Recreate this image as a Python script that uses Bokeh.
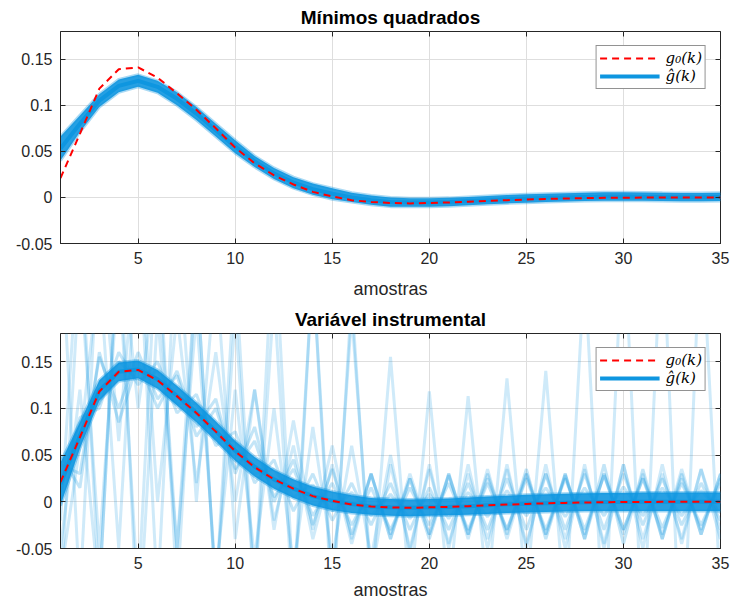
import numpy as np
from bokeh.plotting import figure
from bokeh.models import Range1d, FixedTicker, LinearAxis, Legend, LegendItem, CustomJSTickFormatter
from bokeh.layouts import column
from bokeh.embed import file_html
from bokeh.resources import INLINE

# ---------------- data ----------------
k = list(range(1, 36))

g0 = [0.021, 0.069, 0.118, 0.139, 0.141, 0.130, 0.113, 0.095, 0.075, 0.054,
      0.037, 0.024, 0.014, 0.006, 0.001, -0.003, -0.005, -0.006, -0.0065, -0.006,
      -0.0055, -0.0047, -0.0038, -0.003, -0.0023, -0.0017, -0.0012, -0.0008, -0.0005, -0.0003,
      -0.0002, -0.0001, 0.0, 0.0, 0.0]

# Least squares estimates (envelope of the realisations)
ls_mid = [0.053, 0.080, 0.105, 0.121, 0.1265, 0.120, 0.107, 0.091, 0.073, 0.055,
          0.039, 0.026, 0.016, 0.009, 0.004, 0.000, -0.003, -0.005, -0.0055, -0.0055,
          -0.005, -0.004, -0.003, -0.002, -0.0012, -0.0005, 0.0, 0.0005, 0.001, 0.001,
          0.0008, 0.0005, 0.0003, 0.0003, 0.0005]
ls_lo = [0.040, 0.071, 0.098, 0.114, 0.120, 0.1135, 0.100, 0.084, 0.066, 0.048,
         0.033, 0.020, 0.010, 0.003, -0.002, -0.005, -0.008, -0.010, -0.010, -0.010,
         -0.0095, -0.0085, -0.0075, -0.0065, -0.0057, -0.005, -0.0045, -0.004, -0.0035, -0.0035,
         -0.0037, -0.004, -0.0042, -0.0042, -0.004]
ls_hi = [0.066, 0.089, 0.112, 0.128, 0.133, 0.1265, 0.114, 0.098, 0.080, 0.062,
         0.045, 0.032, 0.022, 0.015, 0.010, 0.005, 0.002, 0.000, -0.001, -0.001,
         -0.0005, 0.0005, 0.0015, 0.0025, 0.0033, 0.004, 0.0045, 0.005, 0.0055, 0.0055,
         0.0053, 0.005, 0.0048, 0.0048, 0.005]

# Instrumental variable estimates: dense envelope
iv_lo = [-0.004, 0.057, 0.108, 0.129, 0.132, 0.121, 0.103, 0.085, 0.065, 0.044,
         0.027, 0.014, 0.004, -0.004, -0.009, -0.012, -0.014, -0.015, -0.0155, -0.015,
         -0.0145, -0.014, -0.013, -0.012, -0.0115, -0.011, -0.0105, -0.010, -0.010, -0.010,
         -0.010, -0.010, -0.010, -0.010, -0.010]
iv_hi = [0.042, 0.085, 0.130, 0.149, 0.151, 0.141, 0.124, 0.106, 0.086, 0.065,
         0.048, 0.034, 0.024, 0.016, 0.011, 0.007, 0.004, 0.003, 0.0025, 0.003,
         0.0035, 0.0045, 0.0055, 0.0065, 0.0075, 0.008, 0.0085, 0.009, 0.0095, 0.0095,
         0.010, 0.010, 0.010, 0.010, 0.010]

# Instrumental variable: moderately oscillating realisations
iv_m1 = [0.010, 0.090, 0.100, 0.160, 0.125, 0.150, 0.095, 0.115, 0.060, 0.075,
         0.020, 0.045, -0.010, 0.030, -0.020, 0.020, -0.025, 0.020, -0.030, 0.015,
         -0.030, 0.020, -0.030, 0.025, -0.030, 0.030, -0.030, 0.030, -0.030, 0.030,
         -0.025, 0.025, -0.025, 0.020, -0.020]
iv_m2 = [0.040, 0.030, 0.155, 0.100, 0.160, 0.110, 0.135, 0.070, 0.100, 0.035,
         0.065, 0.005, 0.035, -0.015, 0.020, -0.025, 0.015, -0.030, 0.015, -0.025,
         0.020, -0.030, 0.020, -0.030, 0.025, -0.030, 0.025, -0.030, 0.028, -0.030,
         0.025, -0.028, 0.020, -0.025, 0.020]
iv_m3 = [0.025, 0.085, 0.105, 0.150, 0.130, 0.140, 0.105, 0.105, 0.068, 0.065,
         0.030, 0.035, 0.005, 0.018, -0.010, 0.010, -0.015, 0.008, -0.018, 0.008,
         -0.018, 0.010, -0.016, 0.012, -0.015, 0.015, -0.016, 0.015, -0.015, 0.016,
         -0.015, 0.015, -0.015, 0.012, -0.012]
iv_m4 = [0.050, 0.015, 0.160, 0.085, 0.150, 0.100, 0.140, 0.080, 0.110, 0.030,
         0.080, 0.000, 0.045, -0.025, 0.035, -0.035, 0.030, -0.035, 0.025, -0.040,
         0.030, -0.035, 0.030, -0.035, 0.035, -0.040, 0.030, -0.040, 0.040, -0.045,
         0.035, -0.040, 0.030, -0.035, 0.030]

# Instrumental variable: strongly oscillating realisations
iv_w1 = [-0.100, 0.250, -0.050, 0.250, -0.100, 0.300, -0.100, 0.250, -0.100, 0.200,
         -0.100, 0.220, -0.120, 0.250, -0.120, 0.220, -0.100, 0.155, -0.100, 0.118,
         -0.100, 0.113, -0.100, 0.132, -0.100, 0.140, -0.120, 0.250, -0.150, 0.300,
         -0.150, 0.300, -0.200, 0.300, -0.100]
iv_w2 = [-0.020, 0.300, -0.100, 0.300, -0.150, 0.200, -0.050, 0.200, -0.080, 0.120,
         -0.060, 0.100, -0.070, 0.080, -0.060, 0.060, -0.060, 0.050, -0.055, 0.040,
         -0.050, 0.040, -0.050, 0.040, -0.050, 0.040, -0.050, 0.040, -0.050, 0.040,
         -0.050, 0.040, -0.045, 0.035, -0.040]
iv_w3 = [0.300, -0.100, 0.300, 0.065, 0.300, -0.100, 0.300, 0.000, 0.250, -0.040,
         0.120, -0.030, 0.087, -0.030, 0.060, -0.040, 0.030, -0.040, 0.030, -0.035,
         0.030, -0.040, 0.035, -0.040, 0.030, -0.035, 0.030, -0.040, 0.030, -0.035,
         0.030, -0.040, 0.035, -0.035, 0.030]
iv_w4 = [-0.050, 0.120, -0.100, 0.300, 0.100, 0.250, -0.050, 0.250, -0.100, 0.250,
         -0.100, 0.300, -0.100, 0.250, -0.100, 0.200, -0.080, 0.040, -0.050, 0.035,
         -0.045, 0.030, -0.040, 0.035, -0.045, 0.030, -0.040, 0.035, -0.045, 0.040,
         -0.040, 0.030, -0.040, 0.035, -0.030]
iv_w5 = [-0.080, 0.060, 0.250, -0.050, 0.300, 0.000, 0.200, 0.020, 0.160, 0.000,
         0.120, -0.020, 0.060, -0.040, 0.040, -0.045, 0.030, -0.040, 0.025, -0.035,
         0.028, -0.035, 0.025, -0.030, 0.030, -0.035, 0.028, -0.035, 0.030, -0.030,
         0.025, -0.035, 0.025, -0.030, 0.025]

x_ticks = [5, 10, 15, 20, 25, 30, 35]
y_ticks = [-0.05, 0, 0.05, 0.1, 0.15]
titles = ["Mínimos quadrados", "Variável instrumental"]
xlabel = "amostras"
legend_labels = ["g\u2080(k)", "\u011d(k)"]

BLUE = "#0E96E0"
DARK = "#262626"
FONT = "Liberation Sans"

fmt = CustomJSTickFormatter(code="""
var s = tick.toFixed(2);
if (s.indexOf('.') >= 0) { s = s.replace(/0+$/, '').replace(/\\.$/, ''); }
if (s == '-0') { s = '0'; }
return s;
""")
blank_fmt = CustomJSTickFormatter(code="return '';")


def make_fig(title, height, top_b, bot_b, label_standoff):
    p = figure(width=732, height=height,
               x_range=Range1d(1, 35), y_range=Range1d(-0.05, 0.18),
               output_backend="svg", toolbar_location=None,
               min_border_left=60, min_border_right=12,
               min_border_top=top_b, min_border_bottom=bot_b,
               background_fill_color="white", border_fill_color="white")
    p.outline_line_color = DARK
    p.outline_line_width = 1
    p.title.text = title
    p.title.align = "center"
    p.title.text_font = FONT
    p.title.text_font_style = "bold"
    p.title.text_font_size = "19px"
    p.title.text_color = "#000000"
    p.title.standoff = 8

    p.xaxis.ticker = FixedTicker(ticks=x_ticks)
    p.yaxis.ticker = FixedTicker(ticks=y_ticks)
    p.yaxis.formatter = fmt
    for ax in (p.xaxis[0], p.yaxis[0]):
        ax.major_tick_in = 5
        ax.major_tick_out = 0
        ax.minor_tick_line_color = None
        ax.axis_line_color = DARK
        ax.major_tick_line_color = DARK
        ax.major_label_text_font = FONT
        ax.major_label_text_font_size = "16px"
        ax.major_label_text_color = DARK
        ax.major_label_standoff = 8
    p.xaxis.axis_label = xlabel
    p.xaxis.axis_label_text_font = FONT
    p.xaxis.axis_label_text_font_size = "18px"
    p.xaxis.axis_label_text_font_style = "normal"
    p.xaxis.axis_label_text_color = DARK
    p.xaxis.axis_label_standoff = label_standoff

    # ticks on right and top (box on)
    for loc, tk in (("right", y_ticks), ("above", x_ticks)):
        ax = LinearAxis(ticker=FixedTicker(ticks=tk), formatter=blank_fmt)
        ax.axis_line_color = None
        ax.major_tick_in = 5
        ax.major_tick_out = 0
        ax.minor_tick_line_color = None
        ax.major_tick_line_color = DARK
        ax.major_label_standoff = 0
        p.add_layout(ax, loc)

    p.xgrid.ticker = FixedTicker(ticks=x_ticks)
    p.ygrid.ticker = FixedTicker(ticks=y_ticks)
    p.grid.grid_line_color = "#dedede"
    p.grid.grid_line_width = 1
    return p


def add_legend(p, r_red, r_blue):
    leg = Legend(items=[LegendItem(label=legend_labels[0], renderers=[r_red]),
                        LegendItem(label=legend_labels[1], renderers=[r_blue])],
                 location="top_right")
    leg.margin = 14
    leg.padding = 3
    leg.spacing = 0
    leg.glyph_width = 60
    leg.glyph_height = 18
    leg.label_height = 18
    leg.label_standoff = 6
    leg.label_text_font = "DejaVu Serif"
    leg.label_text_font_style = "italic"
    leg.label_text_font_size = "15px"
    leg.label_text_color = "#000000"
    leg.border_line_color = DARK
    leg.border_line_width = 1
    leg.background_fill_color = "white"
    leg.background_fill_alpha = 1
    p.add_layout(leg)


# ---------------- top: least squares ----------------
p1 = make_fig(titles[0], 302, 31, 59, 12)
p1.varea(x=k, y1=ls_lo, y2=ls_hi, fill_color=BLUE, fill_alpha=0.9)
p1.line(k, ls_lo, line_color=BLUE, line_alpha=0.35, line_width=3)
p1.line(k, ls_hi, line_color=BLUE, line_alpha=0.35, line_width=3)
b1 = p1.line(k, ls_mid, line_color=BLUE, line_width=4)
r1 = p1.line(k, g0, line_color="red", line_dash="7 5", line_width=2)
add_legend(p1, r1, b1)

# ---------------- bottom: instrumental variable ----------------
p2 = make_fig(titles[1], 303, 30, 57, 8)
for s in (iv_w1, iv_w2, iv_w3, iv_w4, iv_w5):
    p2.line(k, s, line_color=BLUE, line_alpha=0.2, line_width=3)
for s in (iv_m1, iv_m2, iv_m3, iv_m4):
    p2.line(k, s, line_color=BLUE, line_alpha=0.25, line_width=3)
p2.varea(x=k, y1=iv_lo, y2=iv_hi, fill_color=BLUE, fill_alpha=0.9)
p2.line(k, iv_lo, line_color=BLUE, line_alpha=0.4, line_width=3)
p2.line(k, iv_hi, line_color=BLUE, line_alpha=0.4, line_width=3)
iv_mid = list((np.array(iv_lo) + np.array(iv_hi)) / 2)
b2 = p2.line(k, iv_mid, line_color=BLUE, line_width=4)
r2 = p2.line(k, g0, line_color="red", line_dash="7 5", line_width=2)
add_legend(p2, r2, b2)

layout = column(p1, p2, spacing=0)
open("out.html", "w").write(file_html(layout, INLINE))
